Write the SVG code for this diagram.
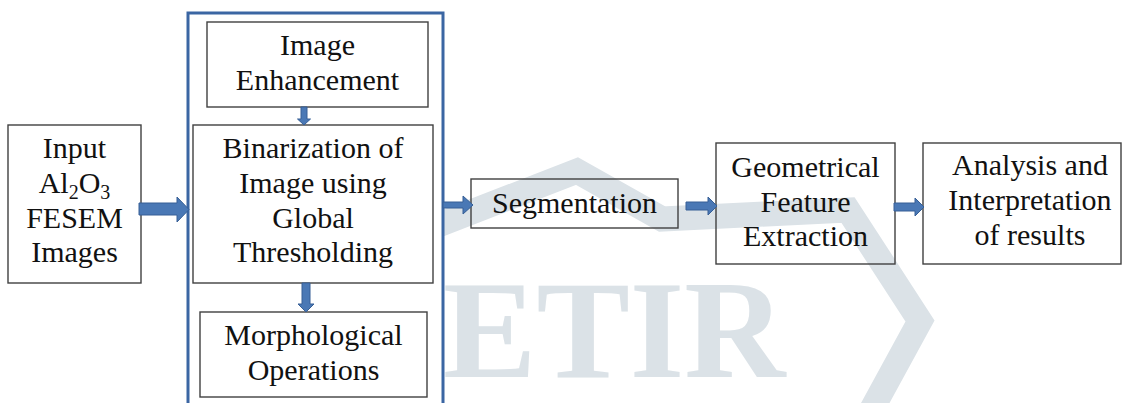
<svg xmlns="http://www.w3.org/2000/svg" width="1129" height="403" viewBox="0 0 1129 403">
<style>
.box{fill:none;stroke:#404040;stroke-width:1.4}
.t{font-family:'Liberation Serif','Tinos','Times New Roman',Times,'DejaVu Serif',serif;font-size:30px;fill:#111;text-anchor:middle}
.arr{fill:#4a78b5;stroke:#365f96;stroke-width:1}
.wm{fill:#dbe2e7;font-family:'Liberation Serif','Tinos','Times New Roman',Times,'DejaVu Serif',serif;font-weight:bold;font-size:140px}
</style>
<rect width="1129" height="403" fill="#fff"/>
<g id="watermark">
<polyline points="420,232 577,171 662,219 848,210 920,321 866,420" fill="none" stroke="#dbe2e7" stroke-width="25" stroke-linejoin="miter" stroke-miterlimit="10"/>
<text x="443" y="377" class="wm">ETIR</text>
</g>
<g id="container">
<rect x="188" y="13" width="255" height="400" fill="#fff" stroke="#3b66a3" stroke-width="3"/>
</g>
<g id="input">
<rect class="box" x="8" y="125" width="133" height="158"/>
<text class="t" x="74.5" y="158">Input</text>
<text class="t" x="74.5" y="193">Al<tspan font-size="20" dy="6">2</tspan><tspan dy="-6">O</tspan><tspan font-size="20" dy="6">3</tspan></text>
<text class="t" x="74.5" y="228">FESEM</text>
<text class="t" x="74.5" y="262">Images</text>
</g>
<g id="enhancement">
<rect class="box" x="207" y="22" width="221" height="85"/>
<text class="t" x="317.5" y="55">Image</text>
<text class="t" x="317.5" y="90">Enhancement</text>
</g>
<g id="binarization">
<rect class="box" x="193" y="125" width="240" height="158"/>
<text class="t" x="313" y="158">Binarization of</text>
<text class="t" x="313" y="193">Image using</text>
<text class="t" x="313" y="228">Global</text>
<text class="t" x="313" y="262">Thresholding</text>
</g>
<g id="morphological">
<rect class="box" x="200" y="312" width="227" height="85"/>
<text class="t" x="313.5" y="345">Morphological</text>
<text class="t" x="313.5" y="380">Operations</text>
</g>
<g id="segmentation">
<rect class="box" x="471" y="179" width="207" height="49"/>
<text class="t" x="574.5" y="213">Segmentation</text>
</g>
<g id="geometrical">
<rect class="box" x="716" y="143" width="179" height="121"/>
<text class="t" x="805.5" y="177">Geometrical</text>
<text class="t" x="805.5" y="212">Feature</text>
<text class="t" x="805.5" y="246">Extraction</text>
</g>
<g id="analysis">
<rect class="box" x="923" y="143" width="198" height="121"/>
<text class="t" x="1030" y="175">Analysis and</text>
<text class="t" x="1030" y="210">Interpretation</text>
<text class="t" x="1030" y="245">of results</text>
</g>
<g id="connectors">
<polygon class="arr" points="139,203 177,203 177,197 189,209.5 177,222 177,215 139,215"/>
<polygon class="arr" points="301,107 307,107 307,119 310.5,119 304,125 297.5,119 301,119"/>
<polygon class="arr" points="302,283 310,283 310,304 314,304 306,312 298,304 302,304"/>
<polygon class="arr" points="443,202 463,202 463,196 473,205 463,214 463,208 443,208"/>
<polygon class="arr" points="686,202 708,202 708,197 717,206 708,215 708,210 686,210"/>
<polygon class="arr" points="894,203 915,203 915,198 924,207 915,216 915,211 894,211"/>
</g>
</svg>
